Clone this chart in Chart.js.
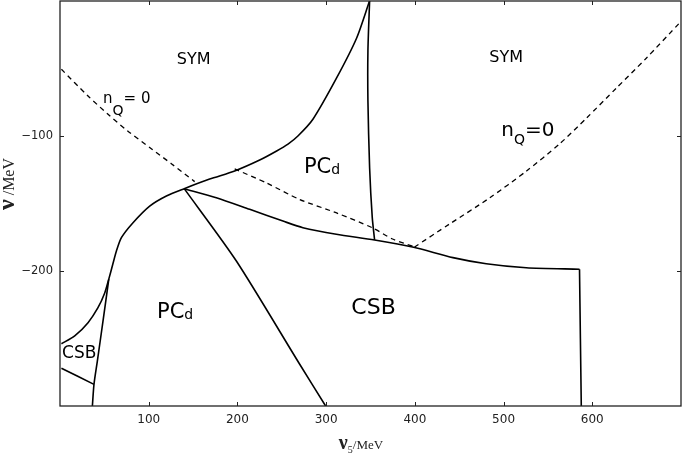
<!DOCTYPE html>
<html>
<head>
<meta charset="utf-8">
<script src="https://cdn.jsdelivr.net/npm/chart.js@4"></script>
<style>
  html, body { margin: 0; padding: 0; background: #fff; }
  #wrap { width: 685px; height: 455px; }
</style>
</head>
<body>
<div id="wrap"><canvas id="phaseChart" width="685" height="455"></canvas></div>
<script>
//// Data

// Ticks
const xTickValues = [100, 200, 300, 400, 500, 600];
const yTickValues = [-100, -200];

// Phase boundaries (nu5 / MeV, nu / MeV)
const symEdgeX = [1.6, 16.6, 31.6, 42.8, 50.4, 55, 59.5, 63.6, 69.2, 82.3, 101.1, 119.9, 140, 168.7, 196.9, 225.1, 244.2, 257, 268.2, 285.1, 311.8, 334.4, 348.9];
const symEdgeY = [-253.9, -248.1, -238.3, -227.2, -216.3, -206, -195, -185.2, -175.3, -164.2, -151.9, -144.4, -139, -131.9, -125.9, -117.8, -111.1, -106, -100, -87.6, -57.0, -27.4, 0];

const pcdCsbEdgeX = [140, 198.8, 270.2, 299.4];
const pcdCsbEdgeY = [-139, -192.6, -269.1, -300];

const csbTopEdgeX = [140, 176.2, 213.8, 251.3, 273.8, 311.5, 354.6, 398.6, 442.9, 480.5, 525.6, 585.6];
const csbTopEdgeY = [-139, -145.7, -154.3, -163, -167.9, -172.8, -177, -182.4, -190.1, -194.6, -197.6, -198.7];

const csbRightEdgeX = [585.6, 586.6, 587.6];
const csbRightEdgeY = [-198.7, -250, -300];

const pcdSymEdgeX = [349, 347.1, 347.1, 349, 352, 354.6];
const pcdSymEdgeY = [0, -37, -74.1, -123.5, -160.5, -177];

const smallCsbLowX = [1.6, 38.3];
const smallCsbLowY = [-272, -284];

const smallCsbRightX = [55, 48.5, 42.1, 38.3, 36.5];
const smallCsbRightY = [-206, -237, -266.7, -284, -300];

// n_Q = 0 lines (dashed)
const nqLeftX = [1.6, 31.6, 53.8, 76.3, 103.3, 125.9, 151.8];
const nqLeftY = [-50.6, -70.4, -83.7, -96.3, -109.6, -120.7, -133.8];

const nqMidX = [196.9, 232.9, 270.1, 311.8, 352.4, 374.9, 399.7];
const nqMidY = [-124.4, -134.8, -147, -157.0, -168.1, -176.3, -182.2];

const nqRightX = [399.7, 439.1, 484.2, 525.9, 563.1, 593.5, 627.3, 661.1, 698.3];
const nqRightY = [-182.2, -165.2, -145.9, -125.9, -105.9, -86.7, -64.4, -42.2, -16.3];

//// Helpers
const toPoints = (xs, ys) => xs.map((x, i) => ({ x: x, y: ys[i] }));

const solidLine = (xs, ys) => ({
    data: toPoints(xs, ys),
    borderColor: '#000',
    borderWidth: 1.6,
    pointRadius: 0,
    fill: false,
    tension: 0.25
});

const dashedLine = (xs, ys) => ({
    data: toPoints(xs, ys),
    borderColor: '#000',
    borderWidth: 1.3,
    borderDash: [5, 4],
    pointRadius: 0,
    fill: false,
    tension: 0.25
});

// text pieces: [text, fontSize, baseline shift, bold]
const sans = (size, bold) => (bold ? 'bold ' : '') + size + 'px "DejaVu Sans"';
const serif = (size, bold) => (bold ? 'bold ' : '') + size + 'px "Liberation Serif"';

const regionLabels = [
    { x: 150.7, y: -46.9, align: 'center', parts: [['SYM', 16, 0]] },
    { x: 503, y: -45, align: 'center', parts: [['SYM', 16, 0]] },
    { x: 48.5, y: -75.6, parts: [['n', 15, 0], ['Q', 14, 12], ['= 0', 15, 0]] },
    { x: 497.4, y: -100, parts: [['n', 20, 0], ['Q', 14, 8], ['=0', 20, 0]] },
    { x: 274.9, y: -127.2, parts: [['PC', 21, 0], ['d', 14, 1]] },
    { x: 109.3, y: -234.6, parts: [['PC', 21, 0], ['d', 14, 1]] },
    { x: 328.4, y: -232.1, parts: [['CSB', 22, 0]] },
    { x: 2.3, y: -264.2, parts: [['CSB', 17, 0]] }
];

const drawParts = (ctx, parts, x, y, align, fontFn) => {
    let total = 0;
    parts.forEach(p => {
        ctx.font = fontFn(p[1], p[3]);
        total += ctx.measureText(p[0]).width;
    });
    let cx = align === 'center' ? x - total / 2 : x;
    parts.forEach(p => {
        ctx.font = fontFn(p[1], p[3]);
        ctx.fillText(p[0], cx, y + p[2]);
        cx += ctx.measureText(p[0]).width;
    });
};

// frame, inward ticks, labels, axis titles
const decorPlugin = {
    id: 'decor',
    afterDatasetsDraw(chart) {
        const ctx = chart.ctx;
        const a = chart.chartArea;
        const xs = chart.scales.x;
        const ys = chart.scales.y;
        ctx.save();
        ctx.strokeStyle = '#222';
        ctx.lineWidth = 1.3;
        ctx.strokeRect(a.left, a.top, a.right - a.left, a.bottom - a.top);

        ctx.beginPath();
        xTickValues.forEach(v => {
            const px = Math.round(xs.getPixelForValue(v)) + 0.5;
            ctx.moveTo(px, a.bottom); ctx.lineTo(px, a.bottom - 4);
            ctx.moveTo(px, a.top); ctx.lineTo(px, a.top + 4);
        });
        yTickValues.forEach(v => {
            const py = Math.round(ys.getPixelForValue(v)) + 0.5;
            ctx.moveTo(a.left, py); ctx.lineTo(a.left + 4, py);
            ctx.moveTo(a.right, py); ctx.lineTo(a.right - 4, py);
        });
        ctx.lineWidth = 1;
        ctx.stroke();

        ctx.fillStyle = '#000';
        ctx.textBaseline = 'alphabetic';
        ctx.textAlign = 'left';
        regionLabels.forEach(l => {
            drawParts(ctx, l.parts, xs.getPixelForValue(l.x), ys.getPixelForValue(l.y), l.align, sans);
        });

        // x title
        ctx.fillStyle = '#222';
        drawParts(ctx, [['\u03bd', 20, 0, true], ['5', 10, 4], ['/MeV', 13, 0]], 361, 449, 'center', serif);

        // y title
        ctx.translate(13.5, 184);
        ctx.rotate(-Math.PI / 2);
        drawParts(ctx, [['\u03bd', 24, 0, true], [' /', 16, 0], ['MeV', 16, 0]], 0, 0, 'center', serif);
        ctx.restore();
    }
};

const minusSign = v => String(v).replace('-', '\u2212');

//// Chart
window.onload = () => {
    const canvas = document.getElementById('phaseChart');
    new Chart(canvas, {
        type: 'line',
        data: {
            datasets: [
                solidLine(symEdgeX, symEdgeY),
                solidLine(pcdCsbEdgeX, pcdCsbEdgeY),
                solidLine(csbTopEdgeX, csbTopEdgeY),
                solidLine(csbRightEdgeX, csbRightEdgeY),
                solidLine(pcdSymEdgeX, pcdSymEdgeY),
                solidLine(smallCsbLowX, smallCsbLowY),
                solidLine(smallCsbRightX, smallCsbRightY),
                dashedLine(nqLeftX, nqLeftY),
                dashedLine(nqMidX, nqMidY),
                dashedLine(nqRightX, nqRightY)
            ]
        },
        options: {
            responsive: false,
            animation: false,
            layout: { padding: { top: 1, right: 4, left: 0, bottom: 0 } },
            plugins: { legend: { display: false }, tooltip: { enabled: false } },
            scales: {
                x: {
                    type: 'linear',
                    min: 0,
                    max: 700,
                    grid: { display: false, drawTicks: false },
                    border: { display: false },
                    afterBuildTicks: s => { s.ticks = xTickValues.map(v => ({ value: v })); },
                    afterFit: s => { s.height = 49; s.paddingLeft = 0; s.paddingRight = 0; },
                    ticks: { color: '#222', padding: 7, font: { family: 'DejaVu Sans', size: 12 } }
                },
                y: {
                    type: 'linear',
                    min: -300,
                    max: 0,
                    grid: { display: false, drawTicks: false },
                    border: { display: false },
                    afterBuildTicks: s => { s.ticks = yTickValues.map(v => ({ value: v })); },
                    afterFit: s => { s.width = 60; s.paddingTop = 0; s.paddingBottom = 0; },
                    ticks: { color: '#222', padding: 7, font: { family: 'DejaVu Sans', size: 11.5 }, callback: minusSign }
                }
            }
        },
        plugins: [decorPlugin]
    });
};
</script>
</body>
</html>
